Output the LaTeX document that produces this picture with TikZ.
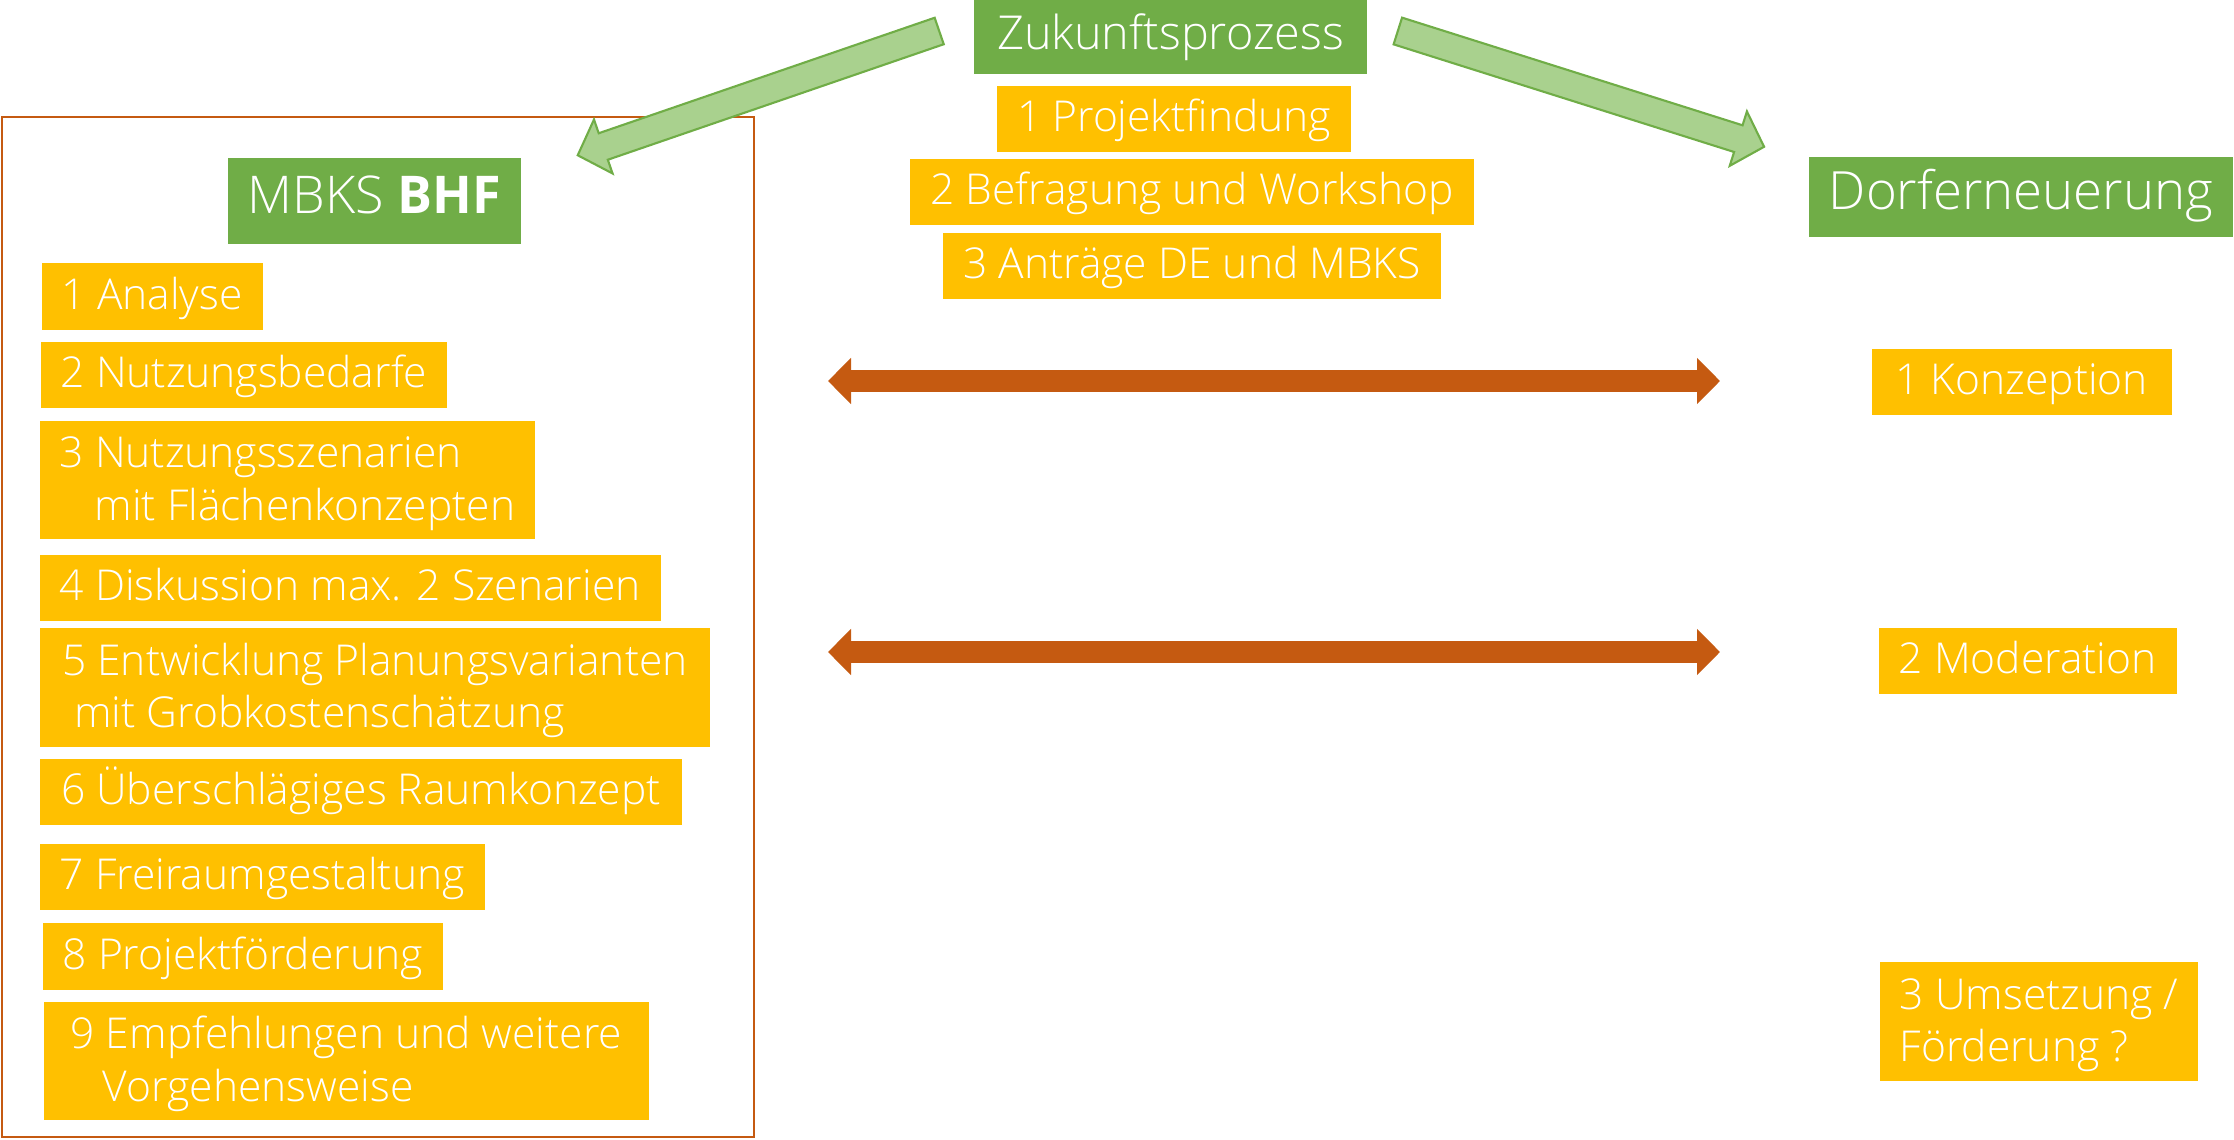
\documentclass[tikz,border=0pt]{standalone}
\usepackage{fontspec}
\setmainfont{Open Sans Light}[BoldFont={Open Sans Bold}]
\usetikzlibrary{arrows.meta,calc}

\definecolor{gelb}{HTML}{FFC000}
\definecolor{gruen}{HTML}{70AD47}
\definecolor{hellgruen}{HTML}{A9D18E}
\definecolor{rost}{HTML}{C55A11}

\tikzset{
  stufe/.style={fill=gelb,text=white,inner xsep=0.2cm,inner ysep=0pt,minimum height=0.665cm,
    text height=0.72em,text depth=0pt,font=\fontsize{12.1}{14.8}\selectfont},
  stufezwei/.style={fill=gelb,text=white,inner xsep=0.2cm,inner ysep=0pt,minimum height=1.185cm,
    align=left,text height=0.8cm,text depth=0pt,font=\fontsize{12.1}{14.8}\selectfont},
  titel/.style={fill=gruen,text=white,inner xsep=0.2cm,inner ysep=0pt,text height=0.72em,text depth=0pt},
  doppelpfeil/.style={rost,line width=0.22cm,
    {Triangle[length=0.23cm,width=0.45cm]}-{Triangle[length=0.23cm,width=0.45cm]}},
  blockpfeil/.style={draw=gruen,fill=hellgruen,line width=0.6pt,line join=miter}
}

\begin{document}
\begin{tikzpicture}[x=0.01cm,y=-0.01cm]
                \useasboundingbox (0,0) rectangle (2234,1139);
                \draw[rost,line width=0.6pt] (2,117) rectangle (754,1137);

                \node[titel,minimum width=3.93cm,minimum height=0.74cm,font=\fontsize{13.3}{16}\selectfont] (zukunft) at (1170.5,37) {Zukunftsprozess};
                \node[stufe,minimum width=3.52cm] (projekt) at (1174,119) {1 Projektfindung};
                \node[stufe,minimum width=5.64cm] (befragung) at (1192,192) {2 Befragung und Workshop};
                \node[stufe,minimum width=4.98cm] (antraege) at (1192,266) {3 Anträge DE und MBKS};

                \node[titel,minimum width=2.87cm,minimum height=0.86cm,font=\fontsize{14.8}{18}\selectfont] (mbks) at (374.5,201) {MBKS \textbf{BHF}};
                \node[stufe,anchor=west,minimum width=2.19cm] (analyse) at (41,296.5) {1 Analyse};
                \node[stufe,anchor=west,minimum width=4.06cm] (bedarfe) at (40,375) {2 Nutzungsbedarfe};
                \node[stufezwei,anchor=west,minimum width=4.93cm] (szenarien) at (39,480) {3 Nutzungsszenarien\\\hspace*{0.35cm}mit Flächenkonzepten};
                \node[stufe,anchor=west,minimum width=6.19cm] (diskussion) at (39,588) {4 Diskussion max. 2 Szenarien};
                \node[stufezwei,anchor=west,minimum width=6.70cm] (varianten) at (39,687.5) {5 Entwicklung Planungsvarianten\\\hspace*{0.12cm}mit Grobkostenschätzung};
                \node[stufe,anchor=west,minimum width=6.42cm] (raum) at (39,792) {6 Überschlägiges Raumkonzept};
                \node[stufe,anchor=west,minimum width=4.44cm] (freiraum) at (39,877) {7 Freiraumgestaltung};
                \node[stufe,anchor=west,minimum width=3.99cm] (foerderung) at (42,956.5) {8 Projektförderung};
                \node[stufezwei,anchor=west,minimum width=6.05cm] (empfehlung) at (43,1061) {9 Empfehlungen und weitere\\\hspace*{0.32cm}Vorgehensweise};

                \node[titel,minimum width=4.23cm,minimum height=0.79cm,font=\fontsize{15}{18}\selectfont] (dorf) at (2021,197) {Dorferneuerung};
                \node[stufe,anchor=west,minimum width=3.00cm] (konzeption) at (1871,382) {1 Konzeption};
                \node[stufe,anchor=west,minimum width=2.95cm] (moderation) at (1878,661) {2 Moderation};
                \node[stufezwei,anchor=west,minimum width=3.17cm] (umsetzung) at (1879,1021.5) {3 Umsetzung /\\Förderung ?};

                \coordinate (zl) at ($(zukunft.west)+(-34,-6)$);
                \coordinate (ml) at ($(mbks.north east)+(56,-2)$);
                \coordinate (zr) at ($(zukunft.east)+(30,-6)$);
                \coordinate (dr) at ($(dorf.north west)+(-44,-10)$);
                \foreach \von/\nach in {zl/ml,zr/dr} {
                    \coordinate (\nach-k) at ($(\nach)!0.27cm!(\von)$);
                    \draw[blockpfeil] ($(\von)!0.14cm!90:(\nach)$) -- ($(\nach-k)!0.14cm!90:(\nach)$)
                        -- ($(\nach-k)!0.285cm!90:(\nach)$) -- (\nach) -- ($(\nach-k)!0.285cm!-90:(\nach)$)
                        -- ($(\nach-k)!0.14cm!-90:(\nach)$) -- ($(\von)!0.14cm!-90:(\nach)$) -- cycle;
                }

                \coordinate (k1) at (828,381);
                \coordinate (k2) at (1720,381);
                \coordinate (m1) at (828,652);
                \coordinate (m2) at (1720,652);
                \draw[doppelpfeil] (k1) -- (k2);
                \draw[doppelpfeil] (m1) -- (m2);
            \end{tikzpicture}
\end{document}
